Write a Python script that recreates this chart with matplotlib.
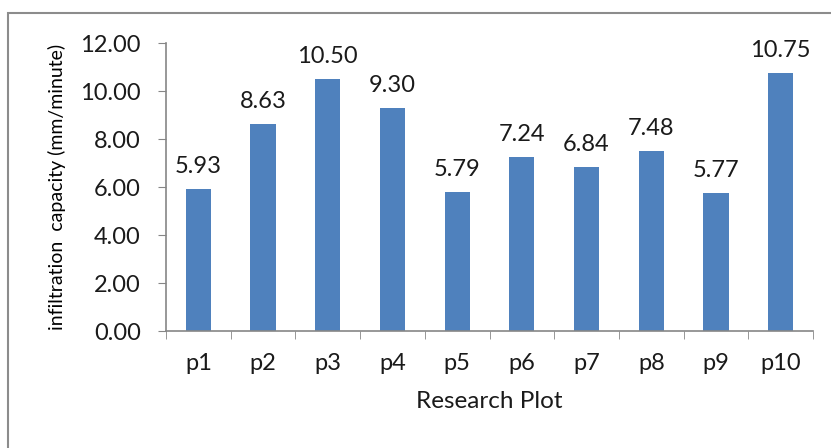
import numpy as np
import matplotlib.pyplot as plt
from matplotlib.patches import Rectangle

# infiltration capacity per research plot
plots = ['p1', 'p2', 'p3', 'p4', 'p5', 'p6', 'p7', 'p8', 'p9', 'p10']
capacity = [5.93, 8.63, 10.50, 9.30, 5.79, 7.24, 6.84, 7.48, 5.77, 10.75]
y_ticks = [0, 2, 4, 6, 8, 10, 12]

plt.rcParams['font.family'] = ['Lato', 'DejaVu Sans']
bar_color = '#4F81BD'
axis_color = '#868686'
text_color = '#1a1a1a'

fig = plt.figure(figsize=(8.31, 4.48), dpi=100)
fig.patch.set_facecolor('white')

# outer chart frame
fig.patches.append(Rectangle((8 / 831, -0.05), 1.2, 1 - 13 / 448 + 0.05,
                             transform=fig.transFigure, fill=False,
                             edgecolor='#8c8c8c', linewidth=1.5))

ax = fig.add_axes([166 / 831, 1 - 331 / 448, (813 - 166) / 831, (331 - 43) / 448])
x = np.arange(len(plots))
ax.bar(x, capacity, width=0.39, color=bar_color)

for xi, v in zip(x, capacity):
    ax.text(xi, v + 0.5, f'{v:.2f}', ha='center', va='bottom',
            fontsize=17, color=text_color)

ax.set_xlim(-0.5, len(plots) - 0.5)
ax.set_ylim(0, 12)
ax.set_yticks(y_ticks)
ax.set_yticklabels([f'{t:.2f}' for t in y_ticks])
ax.set_xticks(x)
ax.set_xticklabels(plots)
ax.set_xticks(np.arange(-0.5, len(plots)), minor=True)
ax.tick_params(axis='x', which='major', length=0, pad=16, labelsize=17,
               labelcolor=text_color)
ax.tick_params(axis='x', which='minor', length=6, color=axis_color, direction='out')
ax.tick_params(axis='y', length=6, color=axis_color, pad=12, labelsize=17,
               labelcolor=text_color)

for side in ('top', 'right'):
    ax.spines[side].set_visible(False)
for side in ('left', 'bottom'):
    ax.spines[side].set_color(axis_color)
    ax.spines[side].set_linewidth(1.2)

ax.set_xlabel('Research Plot', fontsize=17.5, color=text_color, labelpad=12)
ax.set_ylabel('infiltration  capacity (mm/minute)', fontsize=14,
              color='#000000', labelpad=10)

fig.savefig('out.png', dpi=100)
